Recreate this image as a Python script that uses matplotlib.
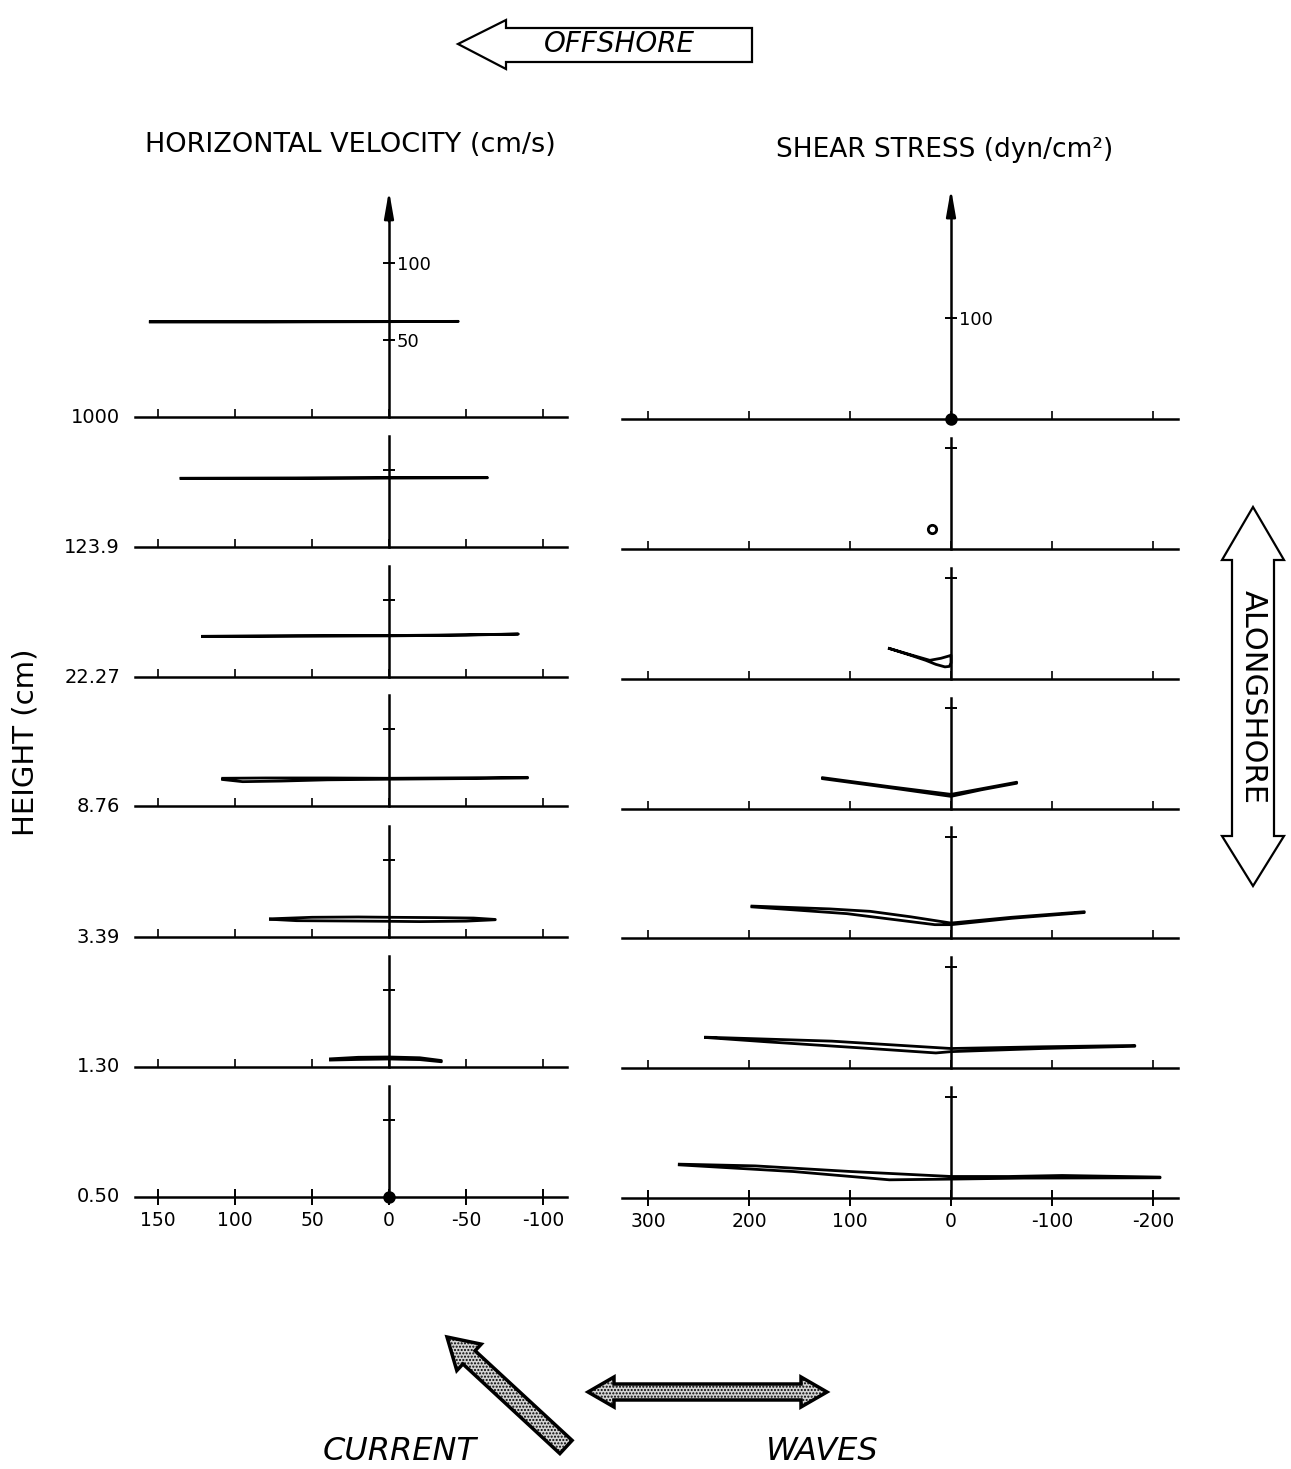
import matplotlib
matplotlib.use("Agg")
import matplotlib.pyplot as plt
from matplotlib.patches import Polygon, FancyArrow

plt.rcParams["font.family"] = ["DejaVu Sans"]
plt.rcParams["axes.unicode_minus"] = False

# ---- data ----
heights = ["1000", "123.9", "22.27", "8.76", "3.39", "1.30", "0.50"]

vel_xticks = [150, 100, 50, 0, -50, -100]
vel_xticklabels = ["150", "100", "50", "0", "-50", "-100"]
vel_yticks_top = [50, 100]
vel_yticklabels_top = ["50", "100"]
vel_ytick = 50

stress_xticks = [300, 200, 100, 0, -100, -200]
stress_xticklabels = ["300", "200", "100", "0", "-100", "-200"]
stress_yticks_top = [100]
stress_yticklabels_top = ["100"]
stress_ytick = 100

# horizontal velocity hodographs (cm/s), one closed loop per height
vel_x = [
    [155, 80, 0, -45, 0, 80, 155],
    [135, 60, 0, -64, 0, 60, 135],
    [121, 60, 0, -50, -84, -50, 0, 60, 121],
    [108, 80, 40, 0, -50, -90, -90, -50, 0, 40, 70, 95, 108],
    [77, 50, 20, 0, -30, -55, -69, -69, -50, -20, 0, 30, 60, 77],
    [38, 20, 0, -20, -34, -34, -20, 0, 20, 38],
    [0],
]
vel_y = [
    [61.8, 61.9, 62.0, 62.1, 61.9, 61.7, 61.8],
    [44.6, 44.8, 45.0, 45.0, 44.8, 44.6, 44.6],
    [26.4, 26.5, 26.7, 27.2, 27.9, 27.4, 26.9, 26.8, 26.4],
    [18.0, 18.2, 18.2, 18.0, 18.3, 18.6, 18.2, 17.8, 17.4, 17.0, 16.2, 15.8, 17.2],
    [11.8, 12.8, 13.0, 12.8, 12.6, 12.3, 11.4, 11.2, 10.3, 10.0, 10.2, 10.4, 10.6, 11.5],
    [5.3, 6.3, 6.5, 6.0, 4.2, 3.4, 4.8, 5.2, 4.9, 4.5],
    [0],
]

# bottom shear stress hodographs (dyn/cm^2)
stress_x = [
    [0],
    [19],
    [61, 40, 21, 10, 2, 0, 0, 1.5, 6, 15, 25, 40, 61],
    [127, 60, 0, -30, -65, -65, -30, 0, 60, 127],
    [197, 120, 80, 40, 0, -60, -132, -132, -60, 0, 16, 103, 197],
    [243, 118, 0, -90, -182, -182, -90, 0, 15, 80, 182, 243],
    [269, 194, 99, 0, -57, -110, -207, -207, -72, 0, 61, 156, 269],
]
stress_y = [
    [0],
    [20],
    [30.2, 24.0, 18.5, 20.5, 22.8, 23.5, 16.0, 12.5, 12.0, 14.5, 18.5, 23.5, 30.2],
    [31.0, 22.0, 14.5, 20.0, 26.5, 25.5, 19.0, 12.5, 21.0, 30.0],
    [31.6, 28.8, 26.4, 21.0, 14.8, 20.5, 26.0, 25.2, 19.5, 13.2, 13.2, 24.1, 30.8],
    [30.5, 26.6, 19.3, 21.0, 22.3, 21.5, 19.3, 16.2, 14.9, 19.3, 25.9, 30.2],
    [33.5, 31.8, 26.2, 21.3, 21.3, 22.3, 20.7, 20.0, 19.7, 18.7, 18.0, 26.2, 32.8],
]

# ---- layout (pixels) ----
W, H = 1291, 1469
fig = plt.figure(figsize=(W / 100, H / 100), dpi=100)

overlay = fig.add_axes([0, 0, 1, 1])
overlay.set_xlim(0, W)
overlay.set_ylim(H, 0)
overlay.axis("off")
overlay.patch.set_alpha(0)

LW = 1.8
cols = [
    dict(x0=135, x1=567, zero=389, s=1.54, base=[417, 547, 677, 806, 937, 1067, 1197],
         xs=vel_x, ys=vel_y, xticks=vel_xticks, xlabels=vel_xticklabels,
         ytick=vel_ytick, yticks_top=vel_yticks_top, ylabels_top=vel_yticklabels_top,
         vtop=72, vtop_first=147),
    dict(x0=622, x1=1178, zero=951, s=1.01, base=[419, 549, 679, 809, 938, 1068, 1198],
         xs=stress_x, ys=stress_y, xticks=stress_xticks, xlabels=stress_xticklabels,
         ytick=stress_ytick, yticks_top=stress_yticks_top, ylabels_top=stress_yticklabels_top,
         vtop=110, vtop_first=228),
]

for ci, c in enumerate(cols):
    xlim = ((c["zero"] - c["x0"]) / c["s"], -(c["x1"] - c["zero"]) / c["s"])
    n = len(c["base"])
    for i in range(n):
        base = c["base"][i]
        top = 183 if i == 0 else base - 130
        ax = fig.add_axes([c["x0"] / W, 1 - base / H, (c["x1"] - c["x0"]) / W, (base - top) / H])
        ax.patch.set_alpha(0)
        ax.set_xlim(*xlim)
        ax.set_ylim(0, (base - top) / c["s"])
        for sp in ("left", "top"):
            ax.spines[sp].set_visible(False)
        ax.spines["bottom"].set_linewidth(LW)
        ax.spines["right"].set_position(("data", 0))
        ax.spines["right"].set_linewidth(LW)
        ax.yaxis.tick_right()
        vtop = c["vtop_first"] if i == 0 else c["vtop"]
        if i == 0:
            ax.spines["right"].set_bounds(0, vtop - 12)
            ax.annotate("", xy=(0, vtop), xytext=(0, vtop - 20),
                        arrowprops=dict(arrowstyle="-|>,head_width=0.28,head_length=1.6",
                                        color="k", lw=LW, shrinkA=0, shrinkB=0),
                        annotation_clip=False)
            ax.set_yticks(c["yticks_top"])
            ax.set_yticklabels(c["ylabels_top"])
            ax.tick_params(axis="y", direction="inout", length=9, width=1.4,
                           labelsize=13, pad=1)
        else:
            ax.spines["right"].set_bounds(0, vtop)
            ax.set_yticks([c["ytick"]])
            ax.tick_params(axis="y", direction="inout", length=9, width=1.4, labelright=False)
        ax.set_xticks(c["xticks"])
        if i == n - 1:
            ax.set_xticklabels(c["xlabels"])
            ax.tick_params(axis="x", direction="inout", length=12, width=1.4,
                           labelsize=13.5, pad=4)
        else:
            ax.tick_params(axis="x", direction="in", length=6, width=1.2, labelbottom=False)

        xs, ys = c["xs"][i], c["ys"][i]
        if len(xs) == 1:
            hollow = (ci == 1 and i == 1)
            ax.plot(xs, ys, "o", ms=6 if hollow else 7, mfc="white" if hollow else "k",
                    mec="k", mew=2, clip_on=False, zorder=5)
        else:
            ax.plot(xs, ys, color="k", lw=2.0, solid_joinstyle="round", clip_on=False)

        if ci == 0:
            overlay.text(120, base, heights[i], ha="right", va="center", fontsize=14)

# ---- titles and labels ----
overlay.text(350, 145, "HORIZONTAL VELOCITY (cm/s)", ha="center", va="center", fontsize=19.5)
overlay.text(945, 150, "SHEAR STRESS (dyn/cm²)", ha="center", va="center", fontsize=19)
overlay.text(26, 742, "HEIGHT (cm)", ha="center", va="center", rotation=90, fontsize=21)

# OFFSHORE arrow
offshore = Polygon([(458, 44), (506, 20), (506, 28), (752, 28), (752, 62), (506, 62), (506, 69)],
                   closed=True, fc="white", ec="k", lw=1.6)
overlay.add_patch(offshore)
overlay.text(619, 44, "OFFSHORE", ha="center", va="center", fontsize=20, style="italic")

# ALONGSHORE arrow
along = Polygon([(1253, 507), (1284, 560), (1274, 560), (1274, 836), (1284, 836), (1253, 886),
                 (1222, 836), (1232, 836), (1232, 560), (1222, 560)],
                closed=True, fc="white", ec="k", lw=1.6)
overlay.add_patch(along)
overlay.text(1253, 697, "ALONGSHORE", ha="center", va="center", rotation=-90, fontsize=22)

# CURRENT and WAVES arrows (stippled)
current = FancyArrow(566, 1447, -119, -110, width=18, head_width=36, head_length=30,
                     length_includes_head=True, fc="#d4d4d4", ec="k", lw=2.5, hatch=".....")
overlay.add_patch(current)
waves = Polygon([(588, 1392), (614, 1377), (614, 1384), (801, 1384), (801, 1377), (827, 1392),
                 (801, 1407), (801, 1400), (614, 1400), (614, 1407)],
                closed=True, fc="#d4d4d4", ec="k", lw=2.5, hatch=".....")
overlay.add_patch(waves)
overlay.text(400, 1452, "CURRENT", ha="center", va="center", fontsize=23, style="italic")
overlay.text(822, 1452, "WAVES", ha="center", va="center", fontsize=23, style="italic")

fig.savefig("out.png", dpi=100)
